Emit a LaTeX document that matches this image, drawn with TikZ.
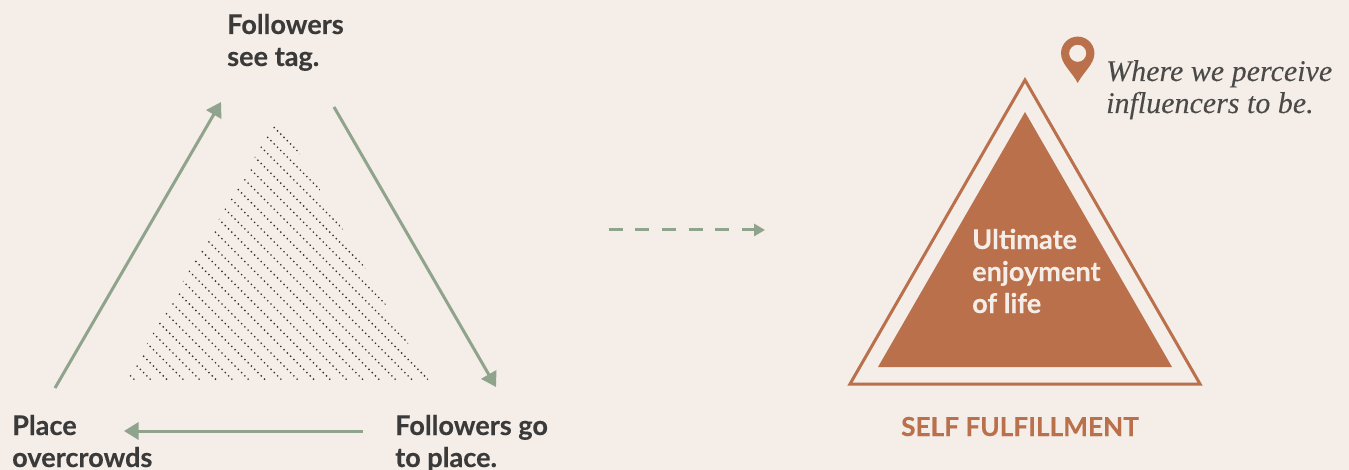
\documentclass[tikz,border=0pt]{standalone}
\usepackage{fontspec}
\usetikzlibrary{arrows.meta}
\setmainfont{Lato}[BoldFeatures={FakeBold=0.25}]
\newfontfamily\serifit{Liberation Serif}[ItalicFeatures={FakeBold=0.1}]
\definecolor{bgc}{HTML}{F4EDE8}
\definecolor{sage}{HTML}{8FA38D}
\definecolor{terra}{HTML}{B9704B}
\definecolor{ink}{HTML}{3A3A3A}
\definecolor{ink2}{HTML}{4A4A48}
\tikzset{
  lab/.style={anchor=base west,inner sep=0pt,font=\fontsize{27.1}{32}\selectfont\bfseries,text=ink,align=left},
  cycle arrow/.style={draw=sage,line width=3pt,-{Triangle[length=14.5pt,width=17pt,fill=sage]}},
  dash arrow/.style={draw=sage,line width=3pt,dash pattern=on 14pt off 12.7pt,-{Triangle[length=11pt,width=12pt,fill=sage]}},
  hatch/.style={draw=black!80,line width=1.3pt,dash pattern=on 1.3pt off 3.32pt}
}
\begin{document}
\begin{tikzpicture}[x=1pt,y=-1pt]
\useasboundingbox (0,0) rectangle (1349,470);
\fill[bgc] (0,0) rectangle (1349,470);
% hatched triangle
\begin{scope}
\clip (278.3,116.7) -- (125.5,381) -- (429.5,381) -- cycle;
\foreach \k in {0,...,26}{
  \draw[hatch] ({134.3+\k*16.33},379.6) -- ({134.3+\k*16.33-300},79.6);
}
\end{scope}
% cycle
\coordinate (a1s) at (55,388);
\coordinate (a1e) at (221,102);
\coordinate (a2s) at (334,107);
\coordinate (a2e) at (496,387);
\coordinate (a3s) at (363,431);
\coordinate (a3e) at (124,431);
\coordinate (ds) at (608.5,230);
\coordinate (de) at (765,230);
\draw[cycle arrow] (a1s) -- (a1e);
\draw[cycle arrow] (a2s) -- (a2e);
\draw[cycle arrow] (a3s) -- (a3e);
\draw[dash arrow] (ds) -- (de);
\node[lab] (tag) at (227,66) {Followers\\see tag.};
\node[lab] (place) at (12,467) {Place\\overcrowds};
\node[lab] (go) at (395,467) {Followers go\\to place.};
% right triangle
\draw[terra,line width=3pt,miter limit=10] (1025,80) -- (1200,384) -- (850,384) -- cycle;
\fill[terra] (1025,112) -- (1172,367) -- (878,367) -- cycle;
\node[lab,text=bgc] (ult) at (972,313) {Ultimate\\enjoyment\\of life};
\node[lab,text=terra,anchor=base,font=\fontsize{26.2}{32}\selectfont\bfseries] (self) at (1020,436) {SELF FULFILLMENT};
% pin
\fill[terra,even odd rule] (1077.7,83) .. controls (1072,72) and (1061,64) .. (1061,53.3)
  arc[start angle=180,end angle=360,radius=16.7]
  .. controls (1094.4,64) and (1083.4,72) .. (1077.7,83) -- cycle
  (1077.7,53.3) circle[radius=8.6];
\node[anchor=base west,inner sep=0pt,align=left,text=ink2,font=\fontsize{30}{32}\selectfont\serifit\itshape] (where) at (1106,113) {Where we perceive\\influencers to be.};
\end{tikzpicture}
\end{document}
